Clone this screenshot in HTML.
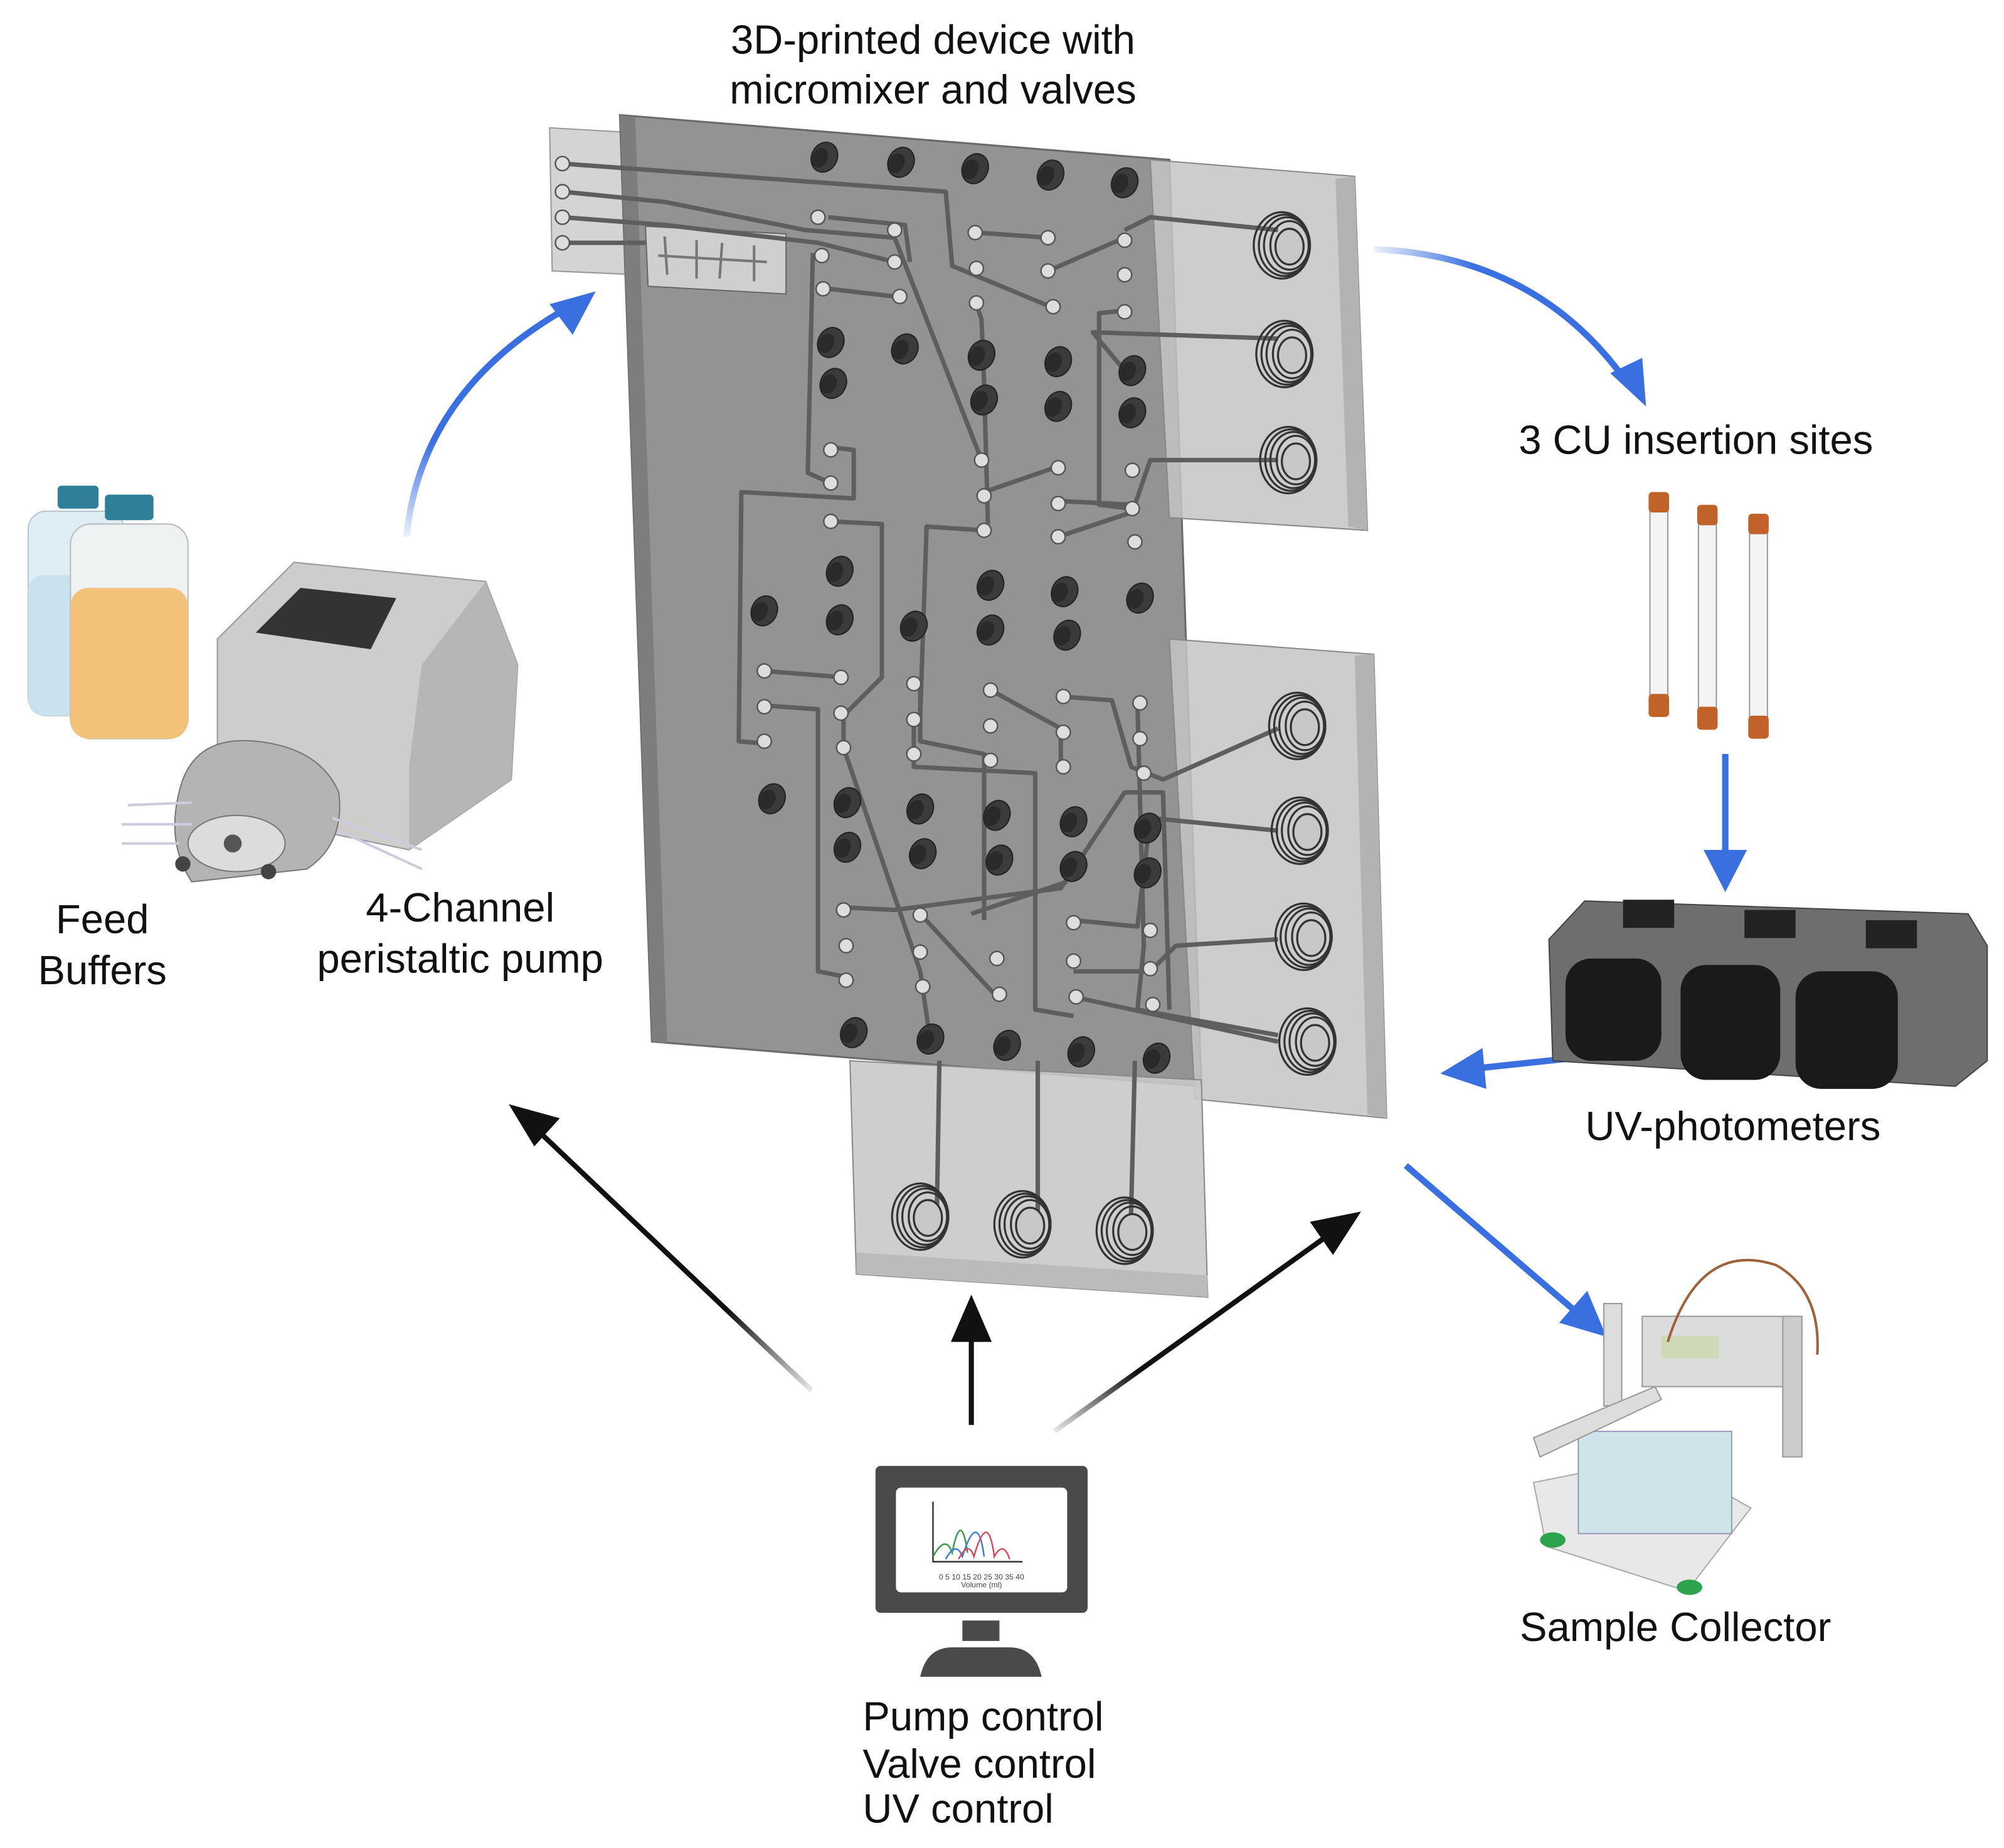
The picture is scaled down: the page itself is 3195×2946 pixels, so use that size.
<!DOCTYPE html>
<html><head><meta charset="utf-8"><style>
html,body{margin:0;padding:0;background:#fff}
svg{display:block}
text{font-family:"Liberation Sans",sans-serif;fill:#111}
</style></head><body>
<svg width="3195" height="2946" viewBox="0 0 1568 1446" xmlns="http://www.w3.org/2000/svg">
<defs>
<linearGradient id="fadeL" x1="0" y1="1" x2="0" y2="0"><stop offset="0" stop-color="#3a6fe0" stop-opacity="0.1"/><stop offset="0.4" stop-color="#3a6fe0"/></linearGradient>
<linearGradient id="fadeR" x1="0" y1="0" x2="1" y2="0"><stop offset="0" stop-color="#3a6fe0" stop-opacity="0.1"/><stop offset="0.4" stop-color="#3a6fe0"/></linearGradient>
<linearGradient id="fadeK1" x1="1" y1="1" x2="0" y2="0"><stop offset="0" stop-color="#111" stop-opacity="0.1"/><stop offset="0.3" stop-color="#111"/></linearGradient>
<linearGradient id="fadeK2" x1="0" y1="1" x2="1" y2="0"><stop offset="0" stop-color="#111" stop-opacity="0.1"/><stop offset="0.3" stop-color="#111"/></linearGradient>
<g id="valve"><ellipse cx="0" cy="0" rx="10" ry="12" transform="rotate(25)" fill="#3b3b3b" stroke="#222"/><ellipse cx="-3" cy="2" rx="6" ry="8" transform="rotate(25)" fill="#2a2a2a"/></g>
<g id="port"><circle r="5.5" fill="#ddd" stroke="#555" stroke-width="1.2"/></g>
<g id="coil" fill="none" stroke="#333" stroke-width="1.6"><ellipse cx="0" cy="0" rx="22" ry="26"/><ellipse cx="2" cy="0" rx="20" ry="24"/><ellipse cx="4" cy="0" rx="18" ry="22"/><ellipse cx="6" cy="0" rx="15" ry="19"/><ellipse cx="6" cy="1" rx="11" ry="14" fill="#c8c8c8"/></g>
</defs>

<text x="730" y="42" font-size="32" text-anchor="middle">3D-printed device with</text>
<text x="730" y="81" font-size="32" text-anchor="middle">micromixer and valves</text>

<polygon points="430,100 500,104 500,215 432,212" fill="#d4d4d4" stroke="#999"/>
<polygon points="485,90 915,125 940,850 510,815" fill="#939393" stroke="#6a6a6a" stroke-width="1.5"/>
<polygon points="485,90 497,92 522,817 510,815" fill="#7d7d7d"/>
<polygon points="900,125 1060,138 1070,415 915,405" fill="#c4c4c4" fill-opacity="0.85" stroke="#888"/>
<polygon points="1045,140 1060,138 1070,415 1055,412" fill="#b3b3b3"/>
<polygon points="915,500 1075,512 1085,875 935,860" fill="#c4c4c4" fill-opacity="0.85" stroke="#888"/>
<polygon points="1060,513 1075,512 1085,875 1070,872" fill="#b3b3b3"/>
<polygon points="665,830 940,845 945,1015 670,997" fill="#c9c9c9" fill-opacity="0.9" stroke="#888"/>
<polygon points="670,980 945,998 945,1015 670,997" fill="#bbb"/>

<polygon points="505,177 615,183 615,230 507,224" fill="#cfcfcf" stroke="#666"/>
<g stroke="#777" stroke-width="2" fill="none"><path d="M520,185 L522,215 M545,188 L545,218 M565,190 L563,218 M590,192 L590,220 M515,200 L600,205"/></g>

<g fill="none" stroke="#5e5e5e" stroke-width="3.5" stroke-linejoin="round">
<path d="M440,128 L740,150 L745,208 L822,240"/>
<path d="M440,150 L520,158 L630,180 L700,186 L768,360"/>
<path d="M440,170 L520,176 L640,190 L700,205"/>
<path d="M440,190 L505,190"/>
<path d="M648,170 L708,176 L712,205"/>
<path d="M765,182 L820,186"/>
<path d="M820,212 L880,186"/>
<path d="M640,225 L700,232"/>
<path d="M880,180 L900,170 L1000,180"/>
<path d="M880,243 L860,245 L860,395 L885,398"/>
<path d="M880,290 L855,260 L1000,265"/>
<path d="M636,198 L632,370 L650,378"/>
<path d="M650,350 L668,352 L668,390 L580,385 L578,580 L600,582"/>
<path d="M764,238 L768,250 L770,300 L773,410"/>
<path d="M650,408 L690,410 L690,530 L660,560 L660,585"/>
<path d="M770,415 L725,412 L720,560"/>
<path d="M828,365 L770,385"/>
<path d="M828,392 L888,395 L900,360 L1000,360"/>
<path d="M828,420 L888,400"/>
<path d="M598,525 L660,530"/>
<path d="M598,552 L640,555 L640,760 L665,765"/>
<path d="M775,540 L830,570 L830,600"/>
<path d="M830,545 L870,548 L885,600 L910,610 L1000,570"/>
<path d="M890,550 L895,740 L890,790 L1000,810"/>
<path d="M720,540 L720,580 L770,590 L770,720"/>
<path d="M715,560 L715,600 L810,605 L810,790 L840,795"/>
<path d="M660,585 L720,760 L728,815"/>
<path d="M660,710 L700,712 L830,695 L880,620 L910,620 L915,790"/>
<path d="M720,715 L780,780"/>
<path d="M760,715 L835,690"/>
<path d="M840,720 L890,725 L900,640 L1000,650"/>
<path d="M840,760 L900,760 L920,740 L1000,735"/>
<path d="M840,780 L1000,815"/>
<path d="M735,830 L733,950"/>
<path d="M812,830 L812,950"/>
<path d="M888,830 L885,950"/>
</g>

<g>
<use href="#port" x="440" y="128"/><use href="#port" x="440" y="150"/><use href="#port" x="440" y="170"/><use href="#port" x="440" y="190"/>
<use href="#port" x="640" y="170"/><use href="#port" x="700" y="180"/><use href="#port" x="763" y="182"/><use href="#port" x="820" y="186"/>
<use href="#port" x="643" y="200"/><use href="#port" x="700" y="205"/><use href="#port" x="764" y="210"/><use href="#port" x="820" y="212"/><use href="#port" x="880" y="188"/>
<use href="#port" x="644" y="226"/><use href="#port" x="704" y="232"/><use href="#port" x="764" y="237"/><use href="#port" x="824" y="240"/><use href="#port" x="880" y="244"/><use href="#port" x="880" y="215"/>
<use href="#port" x="650" y="352"/><use href="#port" x="650" y="378"/><use href="#port" x="768" y="360"/><use href="#port" x="770" y="388"/><use href="#port" x="828" y="366"/><use href="#port" x="828" y="394"/><use href="#port" x="886" y="368"/><use href="#port" x="886" y="398"/>
<use href="#port" x="650" y="408"/><use href="#port" x="770" y="415"/><use href="#port" x="828" y="420"/><use href="#port" x="888" y="424"/>
<use href="#port" x="598" y="525"/><use href="#port" x="658" y="530"/><use href="#port" x="715" y="535"/><use href="#port" x="775" y="540"/><use href="#port" x="832" y="545"/><use href="#port" x="892" y="550"/>
<use href="#port" x="598" y="553"/><use href="#port" x="658" y="558"/><use href="#port" x="715" y="563"/><use href="#port" x="775" y="568"/><use href="#port" x="832" y="573"/><use href="#port" x="892" y="578"/>
<use href="#port" x="598" y="580"/><use href="#port" x="660" y="585"/><use href="#port" x="715" y="590"/><use href="#port" x="775" y="595"/><use href="#port" x="832" y="600"/><use href="#port" x="895" y="605"/>
<use href="#port" x="660" y="712"/><use href="#port" x="720" y="716"/><use href="#port" x="840" y="722"/><use href="#port" x="900" y="728"/>
<use href="#port" x="662" y="740"/><use href="#port" x="720" y="745"/><use href="#port" x="780" y="750"/><use href="#port" x="840" y="752"/><use href="#port" x="900" y="758"/>
<use href="#port" x="662" y="767"/><use href="#port" x="722" y="772"/><use href="#port" x="782" y="778"/><use href="#port" x="842" y="780"/><use href="#port" x="902" y="786"/>
</g>

<g>
<use href="#valve" x="645" y="123"/><use href="#valve" x="705" y="127"/><use href="#valve" x="763" y="132"/><use href="#valve" x="822" y="137"/><use href="#valve" x="880" y="143"/>
<use href="#valve" x="650" y="268"/><use href="#valve" x="708" y="273"/><use href="#valve" x="768" y="278"/><use href="#valve" x="828" y="283"/><use href="#valve" x="886" y="290"/>
<use href="#valve" x="652" y="300"/><use href="#valve" x="770" y="313"/><use href="#valve" x="828" y="318"/><use href="#valve" x="886" y="323"/>
<use href="#valve" x="657" y="447"/><use href="#valve" x="775" y="458"/><use href="#valve" x="833" y="463"/><use href="#valve" x="892" y="468"/>
<use href="#valve" x="598" y="478"/><use href="#valve" x="657" y="485"/><use href="#valve" x="715" y="490"/><use href="#valve" x="775" y="493"/><use href="#valve" x="835" y="497"/>
<use href="#valve" x="604" y="625"/><use href="#valve" x="663" y="628"/><use href="#valve" x="720" y="633"/><use href="#valve" x="780" y="638"/><use href="#valve" x="840" y="643"/><use href="#valve" x="898" y="648"/>
<use href="#valve" x="663" y="663"/><use href="#valve" x="722" y="668"/><use href="#valve" x="782" y="673"/><use href="#valve" x="840" y="678"/><use href="#valve" x="898" y="683"/>
<use href="#valve" x="668" y="808"/><use href="#valve" x="728" y="813"/><use href="#valve" x="788" y="818"/><use href="#valve" x="846" y="823"/><use href="#valve" x="905" y="828"/>
</g>

<use href="#coil" x="1003" y="192"/><use href="#coil" x="1005" y="277"/><use href="#coil" x="1008" y="360"/>
<use href="#coil" x="1015" y="568"/><use href="#coil" x="1017" y="650"/><use href="#coil" x="1020" y="733"/><use href="#coil" x="1023" y="815"/>
<use href="#coil" x="720" y="952"/><use href="#coil" x="800" y="958"/><use href="#coil" x="880" y="963"/>

<path d="M318,420 Q330,300 455,235" fill="none" stroke="url(#fadeL)" stroke-width="5"/>
<polygon points="466,228 430,238 448,262" fill="#3a6fe0"/>
<path d="M1075,195 Q1200,200 1270,295" fill="none" stroke="url(#fadeR)" stroke-width="5"/>
<polygon points="1288,318 1260,292 1285,280" fill="#3a6fe0"/>
<line x1="1350" y1="590" x2="1350" y2="670" stroke="#3a6fe0" stroke-width="5"/>
<polygon points="1350,698 1333,665 1367,665" fill="#3a6fe0"/>
<line x1="1230" y1="828" x2="1155" y2="836" stroke="#3a6fe0" stroke-width="5"/>
<polygon points="1127,840 1160,820 1163,852" fill="#3a6fe0"/>
<line x1="1100" y1="912" x2="1235" y2="1028" stroke="#3a6fe0" stroke-width="5"/>
<polygon points="1257,1046 1220,1035 1242,1010" fill="#3a6fe0"/>

<line x1="635" y1="1088" x2="418" y2="882" stroke="url(#fadeK1)" stroke-width="4"/>
<polygon points="398,864 438,875 418,897" fill="#111"/>
<line x1="760" y1="1115" x2="760" y2="1040" stroke="#111" stroke-width="4"/>
<polygon points="760,1013 744,1050 776,1050" fill="#111"/>
<line x1="825" y1="1120" x2="1040" y2="966" stroke="url(#fadeK2)" stroke-width="4"/>
<polygon points="1065,948 1025,956 1043,982" fill="#111"/>

<rect x="22" y="400" width="75" height="160" rx="14" fill="#dfeef4" stroke="#b5c7cf"/>
<rect x="22" y="450" width="75" height="110" rx="12" fill="#c9e3ee"/>
<rect x="45" y="380" width="32" height="18" rx="3" fill="#2f7f98"/>
<rect x="55" y="410" width="92" height="168" rx="16" fill="#eef2f2" stroke="#bbb"/>
<rect x="55" y="460" width="92" height="118" rx="14" fill="#f2c27a"/>
<rect x="82" y="387" width="38" height="20" rx="3" fill="#2f7f98"/>
<polygon points="170,500 230,440 380,455 405,520 400,610 320,665 200,640 170,600" fill="#cfcccc" stroke="#999"/>
<polygon points="200,495 235,460 310,468 290,508" fill="#333"/>
<polygon points="320,665 400,610 405,520 380,455 330,520 320,600" fill="#b8b5b5"/>
<path d="M140,620 Q150,575 200,580 Q250,585 265,620 Q270,660 240,680 L150,690 Q130,660 140,620 z" fill="#b5b3b3" stroke="#777"/>
<ellipse cx="185" cy="660" rx="38" ry="22" fill="#dcdcdc" stroke="#777"/>
<circle cx="182" cy="660" r="7" fill="#555"/>
<circle cx="143" cy="676" r="6" fill="#444"/><circle cx="210" cy="682" r="6" fill="#444"/>
<path d="M100,630 L150,628 M95,645 L150,645 M95,660 L140,660 M260,640 L330,665 M265,650 L330,680" stroke="#ccd" stroke-width="2"/>

<text x="80" y="730" font-size="32" text-anchor="middle">Feed</text>
<text x="80" y="770" font-size="32" text-anchor="middle">Buffers</text>
<text x="360" y="721" font-size="32" text-anchor="middle">4-Channel</text>
<text x="360" y="761" font-size="32" text-anchor="middle">peristaltic pump</text>

<text x="1327" y="355" font-size="32" text-anchor="middle">3 CU insertion sites</text>
<g>
<rect x="1291" y="398" width="14" height="148" fill="#f4f4f4" stroke="#999"/><rect x="1290" y="385" width="16" height="16" rx="3" fill="#c0622a"/><rect x="1290" y="543" width="16" height="18" rx="3" fill="#c0622a"/>
<rect x="1329" y="408" width="14" height="148" fill="#f4f4f4" stroke="#999"/><rect x="1328" y="395" width="16" height="16" rx="3" fill="#c0622a"/><rect x="1328" y="553" width="16" height="18" rx="3" fill="#c0622a"/>
<rect x="1369" y="415" width="14" height="148" fill="#f4f4f4" stroke="#999"/><rect x="1368" y="402" width="16" height="16" rx="3" fill="#c0622a"/><rect x="1368" y="560" width="16" height="18" rx="3" fill="#c0622a"/>
</g>

<polygon points="1212,735 1240,705 1540,715 1555,740 1555,830 1530,850 1215,830" fill="#6e6e6e" stroke="#444"/>
<rect x="1270" y="704" width="40" height="22" fill="#222"/><rect x="1365" y="712" width="40" height="22" fill="#222"/><rect x="1460" y="720" width="40" height="22" fill="#222"/>
<g fill="#1a1a1a">
<rect x="1225" y="750" width="75" height="80" rx="20"/><rect x="1315" y="755" width="78" height="90" rx="20"/><rect x="1405" y="760" width="80" height="92" rx="20"/>
</g>
<text x="1356" y="892" font-size="32" text-anchor="middle">UV-photometers</text>

<polygon points="1200,1160 1300,1140 1370,1180 1320,1245 1210,1210" fill="#e8e8e8" stroke="#aaa"/>
<rect x="1235" y="1120" width="120" height="80" fill="#cfe3ea" stroke="#99b"/>
<rect x="1285" y="1030" width="115" height="55" fill="#dcdcdc" stroke="#999"/>
<rect x="1300" y="1045" width="45" height="18" fill="#cfd9b8"/>
<rect x="1395" y="1030" width="15" height="110" fill="#ccc" stroke="#999"/>
<rect x="1255" y="1020" width="14" height="80" fill="#ddd" stroke="#999"/>
<polygon points="1200,1125 1295,1085 1300,1095 1205,1140" fill="#ddd" stroke="#999"/>
<path d="M1305,1050 Q1330,970 1390,990 Q1425,1010 1422,1060" fill="none" stroke="#a0623a" stroke-width="2"/>
<ellipse cx="1215" cy="1205" rx="10" ry="6" fill="#2ea34d"/><ellipse cx="1322" cy="1242" rx="10" ry="6" fill="#2ea34d"/>
<text x="1311" y="1284" font-size="32" text-anchor="middle">Sample Collector</text>

<rect x="685" y="1147" width="166" height="115" rx="4" fill="#4a4a4a"/>
<rect x="701" y="1164" width="134" height="82" rx="4" fill="#fff"/>
<g fill="none" stroke-width="1.2">
<path d="M730,1175 L730,1222 L800,1222" stroke="#333"/>
<path d="M730,1218 Q740,1200 745,1215 Q752,1180 757,1215" stroke="#3a9a4a"/>
<path d="M740,1220 Q748,1205 753,1218 Q765,1180 770,1218" stroke="#3a7ad8"/>
<path d="M750,1220 Q758,1205 762,1218 Q773,1180 778,1218 Q785,1205 790,1220" stroke="#d04a5a"/>
</g>
<text x="768" y="1236" font-size="6" text-anchor="middle" style="fill:#444">0 5 10 15 20 25 30 35 40</text>
<text x="768" y="1242" font-size="6" text-anchor="middle" style="fill:#444">Volume (ml)</text>
<rect x="753" y="1268" width="29" height="16" fill="#4a4a4a"/>
<path d="M720,1312 Q725,1289 745,1289 L790,1289 Q810,1289 815,1312 z" fill="#4a4a4a"/>
<text x="675" y="1354" font-size="32">Pump control</text>
<text x="675" y="1391" font-size="32">Valve control</text>
<text x="675" y="1426" font-size="32">UV control</text>
</svg>
</body></html>
